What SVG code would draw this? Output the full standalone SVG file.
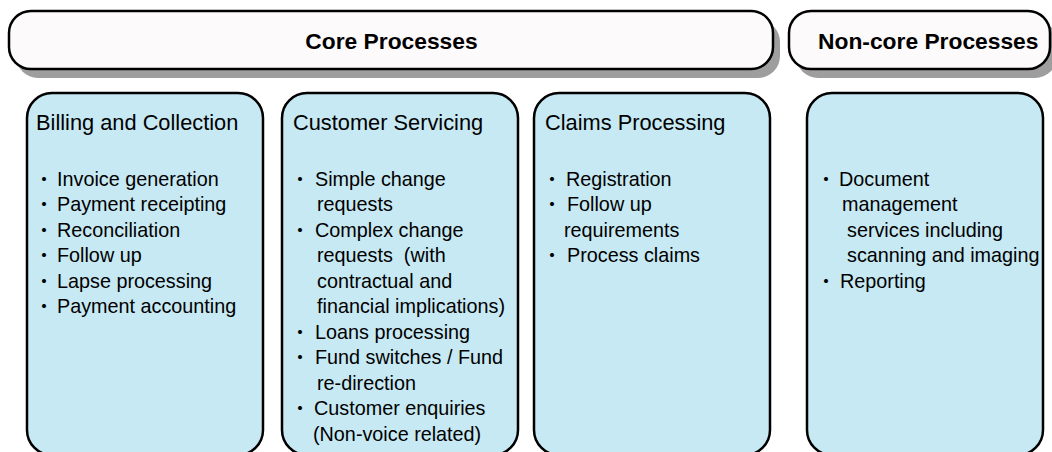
<svg xmlns="http://www.w3.org/2000/svg" width="1052" height="452" viewBox="0 0 1052 452">
  <style>
    .bar { fill: #fdfafc; stroke: #000; stroke-width: 2.5; }
    .shadow { fill: #9e9e9e; }
    .box { fill: #c7e9f3; stroke: #000; stroke-width: 2.5; }
    .hdr { font-family: "Liberation Sans", Arial, sans-serif; font-weight: bold; font-size: 22.8px; fill: #000; }
    .ttl { font-family: "Liberation Sans", Arial, sans-serif; font-size: 21.8px; fill: #000; }
    .itm { font-family: "Liberation Sans", Arial, sans-serif; font-size: 19.8px; fill: #000; }
    .bul { font-family: "Noto Sans CJK JP", "Liberation Sans", sans-serif; font-size: 19px; fill: #000; text-anchor: middle; }
  </style>
  <rect width="1052" height="452" fill="#ffffff"/>

  <g id="core-header">
    <rect class="shadow" x="16" y="20" width="764" height="58" rx="22"/>
    <rect class="bar" x="9" y="11" width="764" height="58" rx="22"/>
    <text class="hdr" x="391.5" y="48.5" text-anchor="middle">Core Processes</text>
  </g>

  <g id="noncore-header">
    <rect class="shadow" x="796" y="20" width="261" height="58" rx="22"/>
    <rect class="bar" x="789" y="11" width="261" height="58" rx="22"/>
    <text class="hdr" x="818" y="48.5">Non-core Processes</text>
  </g>

  <g id="billing">
    <rect class="box" x="27" y="93" width="236" height="362" rx="25"/>
    <text class="ttl" x="36" y="130">Billing and Collection</text>
    <text class="bul" x="44" y="186.5">・</text><text class="itm" x="57" y="185.5">Invoice generation</text>
    <text class="bul" x="44" y="212">・</text><text class="itm" x="57" y="211">Payment receipting</text>
    <text class="bul" x="44" y="237.5">・</text><text class="itm" x="57" y="236.5">Reconciliation</text>
    <text class="bul" x="44" y="263">・</text><text class="itm" x="57" y="262">Follow up</text>
    <text class="bul" x="44" y="288.5">・</text><text class="itm" x="57" y="287.5">Lapse processing</text>
    <text class="bul" x="44" y="314">・</text><text class="itm" x="57" y="313">Payment accounting</text>
  </g>

  <g id="customer-servicing">
    <rect class="box" x="282" y="93" width="236" height="362" rx="25"/>
    <text class="ttl" x="293" y="130">Customer Servicing</text>
    <text class="bul" x="300" y="186.5">・</text><text class="itm" x="315" y="185.5">Simple change</text>
    <text class="itm" x="317" y="211">requests</text>
    <text class="bul" x="300" y="237.5">・</text><text class="itm" x="315" y="236.5">Complex change</text>
    <text class="itm" x="317" y="262" xml:space="preserve">requests  (with</text>
    <text class="itm" x="317" y="287.5">contractual and</text>
    <text class="itm" x="317" y="313">financial implications)</text>
    <text class="bul" x="300" y="339.5">・</text><text class="itm" x="315" y="338.5">Loans processing</text>
    <text class="bul" x="300" y="365">・</text><text class="itm" x="315" y="364">Fund switches / Fund</text>
    <text class="itm" x="317" y="389.5">re-direction</text>
    <text class="bul" x="300" y="416">・</text><text class="itm" x="314" y="415">Customer enquiries</text>
    <text class="itm" x="313" y="440.5">(Non-voice related)</text>
  </g>

  <g id="claims-processing">
    <rect class="box" x="534" y="93" width="236" height="362" rx="25"/>
    <text class="ttl" x="545" y="130">Claims Processing</text>
    <text class="bul" x="552" y="186.5">・</text><text class="itm" x="566" y="185.5">Registration</text>
    <text class="bul" x="552" y="212">・</text><text class="itm" x="567" y="211">Follow up</text>
    <text class="itm" x="564" y="236.5">requirements</text>
    <text class="bul" x="552" y="263">・</text><text class="itm" x="567" y="262">Process claims</text>
  </g>

  <g id="noncore-box">
    <rect class="box" x="807" y="93" width="236" height="362" rx="25"/>
    <text class="bul" x="826" y="186.5">・</text><text class="itm" x="839" y="185.5">Document</text>
    <text class="itm" x="842" y="211">management</text>
    <text class="itm" x="847" y="236.5">services including</text>
    <text class="itm" x="847" y="262">scanning and imaging</text>
    <text class="bul" x="826" y="288.5">・</text><text class="itm" x="840" y="287.5">Reporting</text>
  </g>

  <g id="connectors"></g>
</svg>
